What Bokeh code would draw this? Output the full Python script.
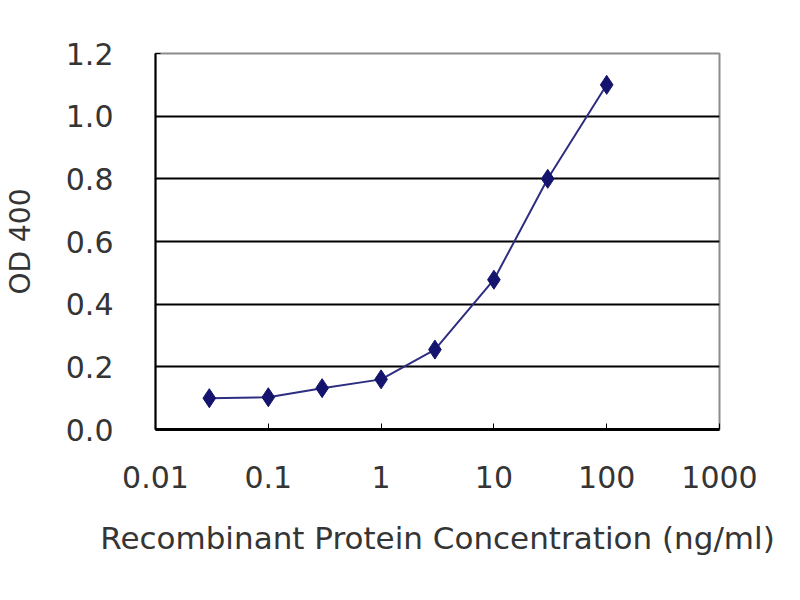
from bokeh.plotting import figure
from bokeh.models import Range1d, FixedTicker, CustomJSTickFormatter, PrintfTickFormatter
from bokeh.embed import file_html
from bokeh.resources import INLINE

conc = [0.03, 0.1, 0.3, 1, 3, 10, 30, 100]
od400 = [0.10, 0.103, 0.132, 0.16, 0.255, 0.478, 0.80, 1.10]
x_ticks = [0.01, 0.1, 1, 10, 100, 1000]
y_ticks = [0.0, 0.2, 0.4, 0.6, 0.8, 1.0, 1.2]
grid_levels = [0.2, 0.4, 0.6, 0.8, 1.0]

p = figure(width=784, height=584, x_axis_type="log",
           x_range=Range1d(0.01, 1000), y_range=Range1d(0, 1.2),
           output_backend="svg", toolbar_location=None)
p.min_border_left = 151
p.min_border_right = 65
p.min_border_top = 53
p.min_border_bottom = 155
p.background_fill_color = "white"
p.border_fill_color = "white"
p.outline_line_color = "#8c8c8c"
p.outline_line_width = 2

font = "DejaVu Sans"
txt = "#353535"

p.xaxis.ticker = FixedTicker(ticks=x_ticks)
p.xaxis.formatter = CustomJSTickFormatter(code="return String(tick);")
p.xaxis.minor_tick_line_color = None
p.xaxis.major_tick_in = 6
p.xaxis.major_tick_out = 0
p.xaxis.axis_line_color = "black"
p.xaxis.axis_line_width = 3
p.xaxis.major_tick_line_color = "black"
p.xaxis.major_tick_line_width = 1
p.xaxis.major_label_standoff = 36
p.xaxis.major_label_text_font = font
p.xaxis.major_label_text_font_size = "30px"
p.xaxis.major_label_text_color = txt
p.xaxis.axis_label = "Recombinant Protein Concentration (ng/ml)"
p.xaxis.axis_label_text_font = font
p.xaxis.axis_label_text_font_size = "31px"
p.xaxis.axis_label_text_font_style = "normal"
p.xaxis.axis_label_text_color = txt
p.xaxis.axis_label_standoff = 29

p.yaxis.ticker = FixedTicker(ticks=y_ticks)
p.yaxis.formatter = PrintfTickFormatter(format="%.1f")
p.yaxis.minor_tick_line_color = None
p.yaxis.major_tick_in = 5
p.yaxis.major_tick_out = 0
p.yaxis.axis_line_color = "black"
p.yaxis.axis_line_width = 2
p.yaxis.major_tick_line_color = "black"
p.yaxis.major_label_standoff = 42
p.yaxis.major_label_text_font = font
p.yaxis.major_label_text_font_size = "30px"
p.yaxis.major_label_text_color = txt
p.yaxis.axis_label = "OD 400"
p.yaxis.axis_label_text_font = font
p.yaxis.axis_label_text_font_size = "28px"
p.yaxis.axis_label_text_font_style = "normal"
p.yaxis.axis_label_text_color = txt
p.yaxis.axis_label_standoff = 26

p.xgrid.grid_line_color = None
p.ygrid.ticker = FixedTicker(ticks=grid_levels)
p.ygrid.grid_line_color = "black"
p.ygrid.grid_line_width = 2

p.line(conc, od400, line_color="#2e2e80", line_width=2)
p.scatter(conc, od400, marker="diamond", size=19, fill_color="#14146e",
          line_color="#14146e")

open("out.html", "w").write(file_html(p, INLINE))
